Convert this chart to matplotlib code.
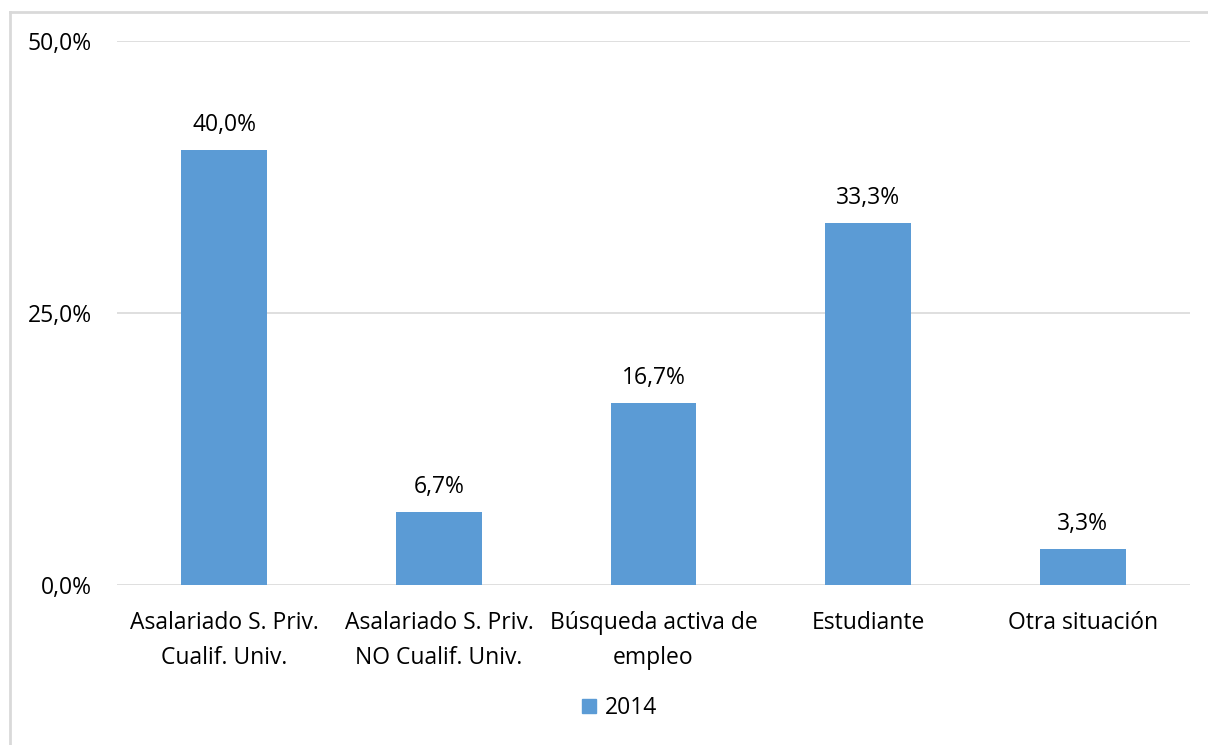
import matplotlib
matplotlib.use("Agg")
import matplotlib.pyplot as plt
from matplotlib.lines import Line2D
from matplotlib.patches import Patch

# Data
categories = ["Asalariado S. Priv.\nCualif. Univ.",
              "Asalariado S. Priv.\nNO Cualif. Univ.",
              "Búsqueda activa de\nempleo",
              "Estudiante",
              "Otra situación"]
values = [40.0, 6.7, 16.7, 33.3, 3.3]
series_name = "2014"
yticks = [0, 25, 50]

bar_color = "#5B9BD5"
plt.rcParams['font.family'] = ['Open Sans', 'DejaVu Sans']
fs = 16.5

fig = plt.figure(figsize=(12.08, 7.45), dpi=100)
ax = fig.add_axes([117/1208, 1 - 585/745, (1190 - 117)/1208, (585 - 41)/745])

x = range(len(categories))
bars = ax.bar(x, values, width=0.4, color=bar_color, zorder=3)

for xi, v in zip(x, values):
    ax.annotate(f"{v:.1f}%".replace(".", ","), (xi, v), xytext=(0, 18),
                textcoords="offset points", ha="center", va="center",
                fontsize=fs, color="#000000")

ax.set_xlim(-0.5, len(categories) - 0.5)
ax.set_ylim(0, 50)
ax.set_yticks(yticks)
ax.set_yticklabels([f"{t:.1f}%".replace(".", ",") for t in yticks], fontsize=fs)
ax.set_xticks(list(x))
ax.set_xticklabels(categories, fontsize=fs, linespacing=1.6)
ax.tick_params(axis="both", length=0)
ax.tick_params(axis="y", pad=18)
ax.tick_params(axis="x", pad=19)
ax.grid(axis="y", color="#D9D9D9", linewidth=1.2, zorder=0)
for s in ax.spines.values():
    s.set_visible(False)

fig.legend(handles=[Patch(color=bar_color, label=series_name)],
           loc="center", bbox_to_anchor=(620/1208, 1 - 708/745),
           frameon=False, fontsize=fs, handlelength=0.6, handleheight=0.6,
           handletextpad=0.4)

# partial frame (top and left edges)
fig.add_artist(Line2D([10/1208, 1], [1 - 12/745, 1 - 12/745], color="#D9D9D9", lw=2,
                      transform=fig.transFigure))
fig.add_artist(Line2D([10/1208, 10/1208], [0, 1 - 12/745], color="#D9D9D9", lw=2,
                      transform=fig.transFigure))

fig.savefig("out.png", dpi=100, facecolor="white")
